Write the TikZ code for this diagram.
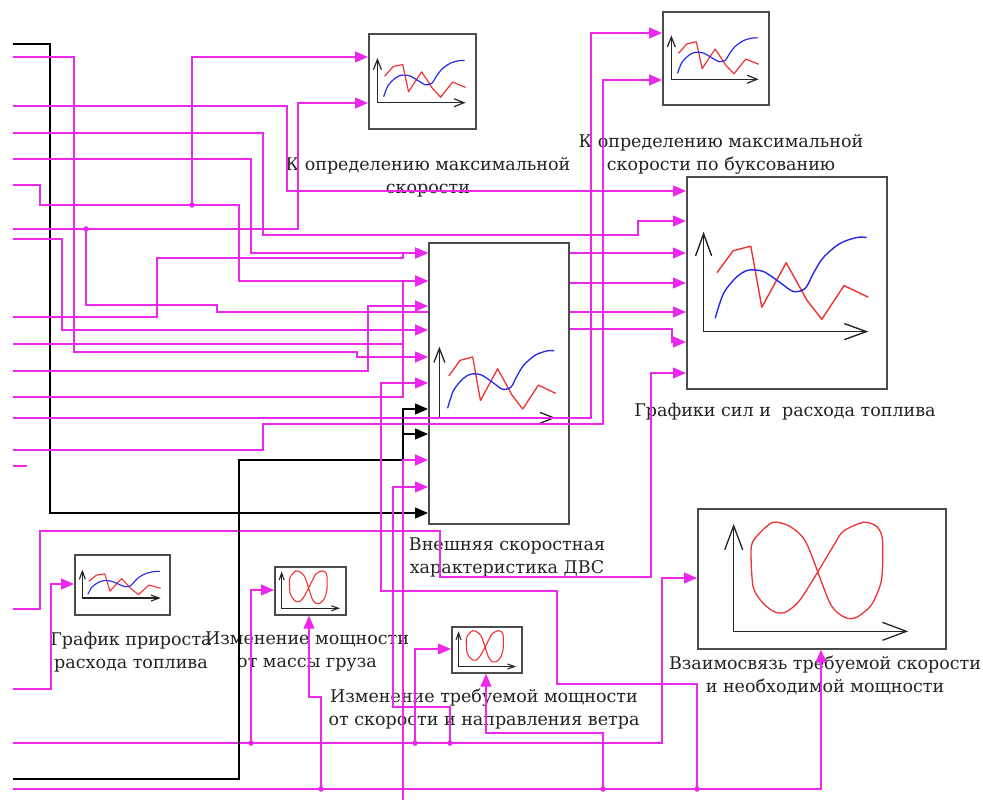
\documentclass[tikz,border=0pt]{standalone}
\usepackage{fontspec}
\setmainfont{DejaVu Serif}
\usetikzlibrary{arrows.meta}
\definecolor{mag}{RGB}{236,40,236}
\definecolor{boxgray}{RGB}{75,75,75}
\definecolor{cred}{RGB}{240,50,50}
\definecolor{cblue}{RGB}{40,40,235}
\definecolor{txt}{RGB}{35,35,35}
% wave chart: #1 origin coord, #2 w, #3 h, #4 lw, #5 arrow length, #6 arrow width
\newcommand\wavechart[6]{%
 \begin{scope}[shift={(#1)},x=#2pt,y=-#3pt]
  \draw[black!85,line width=#4pt,{Straight Barb[length=#5pt,width=#6pt]}-{Straight Barb[length=#5pt,width=#6pt]}]
    (0.088,0.263) -- (0.088,0.734) -- (0.912,0.734);
  \draw[cred,line width=#4pt,line join=round]
    (0.155,0.456) -- (0.235,0.353) -- (0.324,0.331) -- (0.379,0.619) -- (0.501,0.409)
    -- (0.604,0.585) -- (0.679,0.676) -- (0.790,0.517) -- (0.912,0.572);
  \draw[cblue,line width=#4pt] plot[smooth] coordinates {(0.146,0.671) (0.188,0.553) (0.255,0.475)
    (0.313,0.444) (0.388,0.451) (0.471,0.503) (0.537,0.545) (0.596,0.530) (0.637,0.459)
    (0.687,0.384) (0.770,0.318) (0.854,0.290) (0.903,0.290)};
 \end{scope}}
% loop chart: #1 origin, #2 w, #3 h, #4 lw, #5 al, #6 aw, #7 axis x, #8 x-axis end
\newcommand\loopchart[8]{%
 \begin{scope}[shift={(#1)},x=#2pt,y=-#3pt]
  \draw[black!85,line width=#4pt,{Straight Barb[length=#5pt,width=#6pt]}-{Straight Barb[length=#5pt,width=#6pt]}]
    (#7,0.114) -- (#7,0.881) -- (#8,0.881);
  \draw[cred,line width=#4pt] plot[smooth cycle,tension=0.45] coordinates {
    (0.441,0.25) (0.374,0.131) (0.307,0.102) (0.253,0.179) (0.219,0.274) (0.226,0.560)
    (0.266,0.679) (0.314,0.743) (0.358,0.743) (0.421,0.643)
    (0.549,0.274) (0.589,0.167) (0.670,0.102) (0.724,0.131) (0.748,0.226) (0.744,0.512)
    (0.704,0.690) (0.643,0.781) (0.596,0.781) (0.536,0.679)};
 \end{scope}}
\begin{document}
\begin{tikzpicture}[x=1pt,y=-1pt,
  wire/.style={draw=mag,line width=1.3pt},
  bwire/.style={draw=black,line width=1.3pt},
  intip/.style={-{Triangle[length=13pt,width=11pt]}},
  blk/.style={draw=boxgray,line width=1.7pt,fill=white,inner sep=0pt,anchor=north west},
  jdot/.style={circle,fill=mag,inner sep=0pt,minimum size=5.5pt},
  capt/.style={align=center,text=txt,font=\fontsize{17.5}{23}\selectfont,inner sep=0pt}]
\fill[white] (0,0) rectangle (983,800);
\useasboundingbox (0,0) rectangle (983,800);

% blocks
\node[blk,minimum width=107pt,minimum height=95pt] (A) at (368,33) {};
\node[blk,minimum width=106pt,minimum height=93pt] (B) at (662,11) {};
\node[blk,minimum width=200pt,minimum height=212pt] (C) at (686,176) {};
\node[blk,minimum width=140pt,minimum height=281pt] (D) at (428,242) {};
\node[blk,minimum width=248pt,minimum height=140pt] (E) at (697,508) {};
\node[blk,minimum width=71pt,minimum height=48pt] (F) at (274,566) {};
\node[blk,minimum width=70pt,minimum height=46pt] (G) at (451,626) {};
\node[blk,minimum width=95pt,minimum height=60pt] (H) at (74,554) {};

% charts
\wavechart{A.north west}{107}{95}{1.2}{10}{8}
\wavechart{B.north west}{106}{93}{1.2}{10}{8}
\wavechart{C.north west}{200}{212}{1.4}{22}{16}
\wavechart{427,307}{141}{151}{1.3}{14}{11}
\wavechart{H.north west}{95}{60}{1.1}{8}{6}
\loopchart{E.north west}{248}{140}{1.3}{24}{18}{0.148}{0.852}
\loopchart{F.north west}{71}{48}{1.1}{7}{5}{0.108}{0.93}
\loopchart{G.north west}{70}{46}{1.1}{7}{5}{0.108}{0.93}

% captions
\node[capt] (capA) at (428,177) {К определению максимальной\\скорости};
\node[capt] (capB) at (721,154) {К определению максимальной\\скорости по буксованию};
\node[capt] (capC) at (785,412) {Графики сил и\ \ расхода топлива};
\node[capt] (capD) at (507,557) {Внешняя скоростная\\характеристика ДВС};
\node[capt] (capH) at (131,652) {График прироста\\расхода топлива};
\node[capt] (capF) at (307,652) {Изменение мощности\\от массы груза};
\node[capt] (capG) at (484,709) {Изменение требуемой мощности\\от скорости и направления ветра};
\node[capt] (capE) at (825,675) {Взаимосвязь требуемой скорости\\и необходимой мощности};

% terminals and junctions
\foreach \y in {44,57,106,133,159,185,229,239,317,344,371,397,418,450,466,609,689,743,779,789}
  \coordinate (L\y) at (13,\y);
\coordinate (J1) at (192,205);
\coordinate (J2) at (86,229);
\coordinate (K1) at (251,743);
\coordinate (K2) at (415,743);
\coordinate (K3) at (450,743);
\coordinate (M1) at (321,789);
\coordinate (M2) at (603,789);
\coordinate (M3) at (697,789);
\coordinate (Bot) at (403,800);

% wires
\draw[bwire,intip] (L44) -| (50,513) -- (D.west |- 0,513);
\draw[wire,intip] (L57) -| (74,352) -| (357,357) -- (D.west |- 0,357);
\draw[wire,intip] (L106) -| (287,191) -- (C.west |- 0,191);
\draw[wire,intip] (L133) -| (263,235) -| (638,221) -- (C.west |- 0,221);
\draw[wire,intip] (L159) -| (251,253) -- (D.west |- 0,253);
\draw[wire,intip] (L185) -| (40,205) -| (239,281) -- (D.west |- 0,281);
\draw[wire,intip] (J1) |- (A.west |- 0,57);
\draw[wire,intip] (L229) -| (298,103) -- (A.west |- 0,103);
\draw[wire] (J2) |- (217,305) |- (D.west |- 0,312);
\draw[wire,intip] (L239) -| (62,330) -- (D.west |- 0,330);
\draw[wire,intip] (L317) -| (157,258) -| (403,253) -- (D.west |- 0,253);
\draw[wire] (L344) -- (403,344);
\draw[wire,intip] (L397) -| (403,281) -- (D.west |- 0,281);
\draw[wire,intip] (L371) -| (368,306) -- (D.west |- 0,306);
\draw[wire,intip] (L418) -| (591,33) -- (B.west |- 0,33);
\draw[wire,intip] (L450) -| (263,424) -| (603,80) -- (B.west |- 0,80);
\draw[wire] (L466) -- (27,466);
\draw[wire,intip] (L609) -| (40,531) -| (440,577) -| (651,373) -- (C.west |- 0,373);
\draw[wire,intip] (L689) -| (51,584) -- (H.west |- 0,584);
\draw[wire,intip] (L743) -| (662,578) -- (E.west |- 0,578);
\draw[wire,intip] (K1) |- (F.west |- 0,590);
\draw[wire,intip] (K2) |- (G.west |- 0,649);
\draw[wire,intip] (K3) |- (393,707) |- (D.west |- 0,487);
\draw[bwire,intip] (L779) -| (239,460) -| (403,409) -- (D.west |- 0,409);
\draw[bwire,intip] (403,434) -- (D.west |- 0,434);
\draw[wire,intip] (Bot) |- (D.west |- 0,460);
\draw[wire,intip] (L789) -| (E.south -| 821,0);
\draw[wire,intip] (M1) |- (309,697) -- (F.south -| 309,0);
\draw[wire,intip] (M2) |- (486,733) -- (G.south -| 486,0);
\draw[wire,intip] (M3) |- (557,684) |- (381,591) |- (D.west |- 0,383);
% outputs of D
\draw[wire,intip] (D.east |- 0,253) -- (C.west |- 0,253);
\draw[wire,intip] (D.east |- 0,283) -- (C.west |- 0,283);
\draw[wire,intip] (D.east |- 0,312) -- (C.west |- 0,312);
\draw[wire,intip] (D.east |- 0,329) -| (672,342) -- (C.west |- 0,342);

% junction dots
\foreach \j in {J1,J2,K1,K2,K3,M1,M2,M3} \node[jdot] at (\j) {};
\end{tikzpicture}
\end{document}
